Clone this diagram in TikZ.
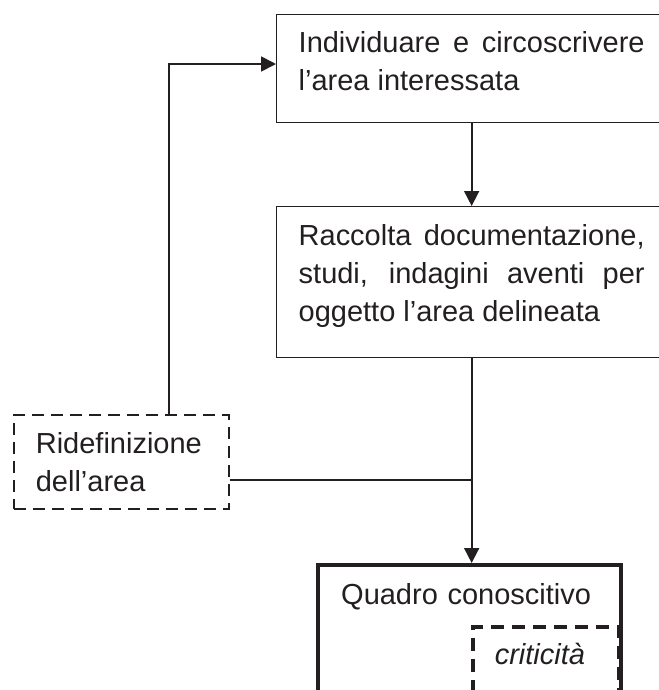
\documentclass[tikz,border=0pt]{standalone}
\usepackage{fontspec}
\setmainfont{Liberation Sans}
\usetikzlibrary{arrows.meta}
\definecolor{ink}{HTML}{231F20}

\begin{document}
\begin{tikzpicture}[x=0.02cm,y=-0.02cm,
    every node/.style={font=\fontsize{16.5}{21.6}\selectfont, text=ink},
    box/.style={draw=ink, line width=0.8pt, inner xsep=0.44cm, inner ysep=0pt, anchor=north west, align=justify},
    dashbox/.style={box, line width=1pt, dash pattern=on 0.24cm off 0.14cm},
    arr/.style={draw=ink, line width=1pt, -{Triangle[length=0.3cm,width=0.3cm]}}]
  \clip (0,0) rectangle (659,690);
  % Steps
  \node[box, text width=6.92cm, text height=0.76cm, text depth=1.4cm] (area) at (276,14)
    {Individuare e circoscrivere\linebreak l'area interessata};
  \node[box, text width=6.92cm, text height=0.78cm, text depth=2.24cm] (docs) at (276,206)
    {Raccolta documentazione,\linebreak studi, indagini aventi per\linebreak oggetto l'area delineata};
  \node[dashbox, align=left, text width=3.42cm, text height=0.78cm, text depth=1.1cm] (redef) at (13,414)
    {Ridefinizione\\dell'area};
  % Result
  \node[box, line width=2.5pt, align=left, inner xsep=0.46cm, text width=5.14cm, text height=0.78cm, text depth=3cm] (quadro) at (316,563)
    {Quadro conoscitivo};
  \node[dashbox, line width=2pt, dash pattern=on 0.26cm off 0.16cm, align=left, text width=2.04cm, text height=0.76cm, text depth=2cm] (crit) at (471,625)
    {\itshape criticità};
  % Connectors
  \coordinate (join) at (471,480);
  \coordinate (bend) at (169,64);
  \draw[arr] (area.south) -- (docs.north);
  \draw[arr] (docs.south) -- (docs.south |- quadro.north);
  \draw[draw=ink, line width=1pt] (redef.east |- join) -- (join);
  \draw[arr] (bend |- redef.north) -- (bend) -- (bend -| area.west);
\end{tikzpicture}
\end{document}
